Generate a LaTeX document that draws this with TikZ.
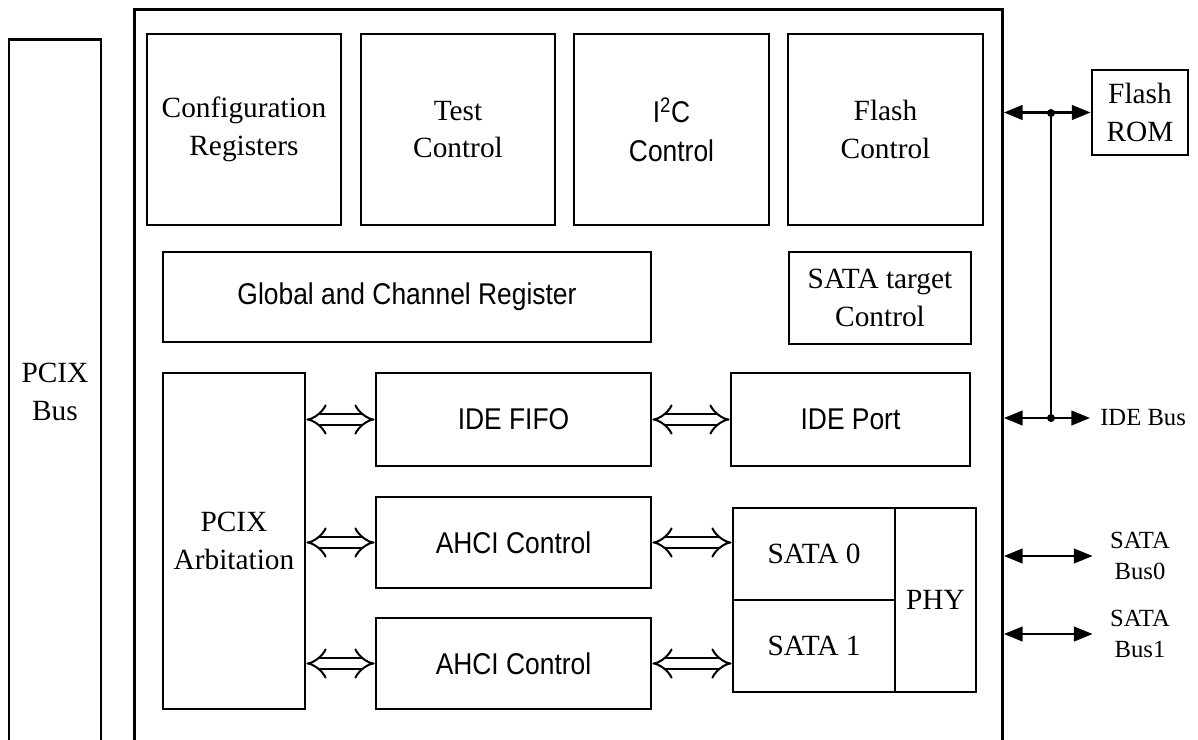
\documentclass[tikz,border=0pt]{standalone}
\usepackage{fontspec}
\setmainfont{Liberation Serif}
\newfontfamily\narrowsf[FakeStretch=0.88]{Liberation Sans}
\usetikzlibrary{arrows.meta}
\tikzset{
	blk/.style={draw, line width=2.2pt, inner sep=0pt, align=center, font=\fontsize{22}{28}\selectfont},
	sfblk/.style={blk, font=\narrowsf\fontsize{22.5}{29}\selectfont},
	sz/.style 2 args={minimum width=#1*0.75pt, minimum height=#2*0.75pt},
	lbl/.style={inner sep=0pt, align=center, font=\fontsize{18.5}{23}\selectfont},
	bus/.style={line width=1.6pt, {Triangle[length=14pt,width=11pt]}-{Triangle[length=14pt,width=11pt]}},
	wide/.style={double, double distance=6.5pt, line width=1.5pt, {Implies[length=9pt,width=17pt]}-{Implies[length=9pt,width=17pt]}},
}

\begin{document}
\begin{tikzpicture}[x=0.75pt,y=-0.75pt]
				%%%%% START %%%%%
				\def\xjoin{1051}
				\def\yflash{113}
				\def\yide{418}
				\def\ysone{556}
				\def\ystwo{634}
				
				\useasboundingbox (0,0) rectangle (1198,739);
				
				% bus on the left and chip outline
				\node[blk, sz={92}{760}, anchor=north] (pcix) at (55,38) {};
				\node[lbl, font=\fontsize{22}{28}\selectfont] (pcixtxt) at (55,392) {PCIX\\Bus};
				\node[blk, sz={868}{780}, anchor=north west] (chip) at (133,8) {};
				
				% top row
				\node[blk, sz={194}{191}] (cfg) at (244,129.5) {Configuration\\Registers};
				\node[blk, sz={194}{191}] (test) at (458,129.5) {Test\\Control};
				\node[sfblk, sz={195}{191}] (iic) at (671.5,129.5) {I\textsuperscript{2}C\\Control};
				\node[blk, sz={195}{191}] (flash) at (885.5,129.5) {Flash\\Control};
				
				% second row
				\node[sfblk, sz={488}{90}] (glob) at (407,297) {Global and Channel Register};
				\node[blk, sz={182}{92}] (target) at (880,298) {SATA target\\Control};
				
				% data path
				\node[blk, sz={142}{336}] (arb) at (234,541) {PCIX\\Arbitation};
				\node[sfblk, sz={275}{93}] (fifo) at (513.5,419.5) {IDE FIFO};
				\node[sfblk, sz={239}{93}] (port) at (850.5,419.5) {IDE Port};
				\node[sfblk, sz={275}{91}] (ahcia) at (513.5,542.5) {AHCI Control};
				\node[sfblk, sz={275}{91}] (ahcib) at (513.5,663.5) {AHCI Control};
				\node[blk, sz={162}{92}] (sata0) at (814,554) {SATA 0};
				\node[blk, sz={162}{92}] (sata1) at (814,646) {SATA 1};
				\node[blk, sz={81}{184}] (phy) at (935.5,600) {PHY};
				
				\draw[wide] (arb.east |- fifo.west) -- (fifo.west);
				\draw[wide] (arb.east |- ahcia.west) -- (ahcia.west);
				\draw[wide] (arb.east |- ahcib.west) -- (ahcib.west);
				\draw[wide] (fifo.east) -- (port.west);
				\draw[wide] (ahcia.east) -- (sata0.west |- ahcia.east);
				\draw[wide] (ahcib.east) -- (sata1.west |- ahcib.east);
				
				% outside parts
				\node[blk, sz={96}{85}] (rom) at (1140,112.5) {Flash\\ROM};
				\node[lbl, anchor=west] (idebus) at (1100,\yide) {IDE Bus};
				\node[lbl] (busa) at (1140,\ysone) {SATA\\Bus0};
				\node[lbl] (busb) at (1140,\ystwo) {SATA\\Bus1};
				
				\coordinate (jflash) at (\xjoin,\yflash);
				\coordinate (jide) at (\xjoin,\yide);
				
				\draw[bus] (chip.east |- rom.west) -- (rom.west);
				\draw[bus, shorten >=7.5pt] (chip.east |- idebus.west) -- (idebus.west);
				\draw[bus, shorten >=13pt] (chip.east |- busa.west) -- (busa.west);
				\draw[bus, shorten >=13pt] (chip.east |- busb.west) -- (busb.west);
				\draw[line width=1.6pt] (jflash) -- (jide);
				\fill (jflash) circle (3pt);
				\fill (jide) circle (3pt);
				%%%%% END %%%%%
\end{tikzpicture}
\end{document}
